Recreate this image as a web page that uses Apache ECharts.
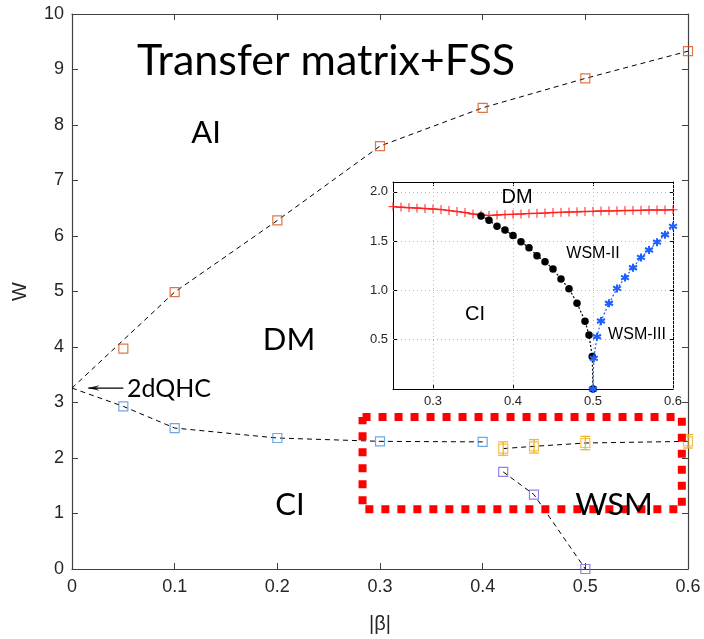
<!DOCTYPE html>
<html><head><meta charset="utf-8">
<script src="https://cdn.jsdelivr.net/npm/echarts@6/dist/echarts.min.js"></script>
<style>html,body{margin:0;padding:0;background:#fff}#c{width:704px;height:639px}</style>
</head><body><div id="c"></div>
<script>
// ---------- main panel data ----------
const mainXTicks = [0, 0.1, 0.2, 0.3, 0.4, 0.5, 0.6];
const mainYTicks = [0, 1, 2, 3, 4, 5, 6, 7, 8, 9, 10];
const aiX    = [0.05, 0.1, 0.2, 0.3, 0.4, 0.5, 0.6];
const aiW    = [3.97, 4.99, 6.28, 7.62, 8.31, 8.84, 9.33];
const aiFitX = [0, 0.1, 0.2, 0.3, 0.4, 0.5, 0.6];
const aiFitW = [3.26, 4.99, 6.28, 7.62, 8.31, 8.84, 9.33];
const ciX    = [0.05, 0.1, 0.2, 0.3, 0.4];
const ciW    = [2.93, 2.54, 2.36, 2.30, 2.29];
const ciFitX = [0, 0.05, 0.1, 0.2, 0.3, 0.4];
const ciFitW = [3.26, 2.93, 2.54, 2.36, 2.30, 2.29];
const wsmX   = [0.42, 0.45, 0.5, 0.6];
const wsmW   = [2.17, 2.21, 2.27, 2.30];
const wsmErr = [0.12, 0.12, 0.12, 0.12];
const wsm2X  = [0.42, 0.45, 0.5];
const wsm2W  = [1.75, 1.34, 0];
const boxCornersX = [0.283, 0.594, 0.594, 0.283, 0.283];
const boxCornersW = [2.737, 2.737, 1.075, 1.075, 2.737];
const arrowFrom = [0.05, 3.26];
const arrowTo   = [0.016, 3.26];

// ---------- inset data ----------
const insetXTicks = [0.3, 0.4, 0.5, 0.6];
const insetYTicks = [0.5, 1.0, 1.5, 2.0];
const dmX = [0.25,0.26,0.27,0.28,0.29,0.30,0.31,0.32,0.33,0.34,0.35,0.36,0.37,0.38,0.39,0.40,0.41,0.42,
             0.43,0.44,0.45,0.46,0.47,0.48,0.49,0.50,0.51,0.52,0.53,0.54,0.55,0.56,0.57,0.58,0.59,0.60];
const dmW = [1.850,1.845,1.840,1.835,1.830,1.825,1.820,1.810,1.800,1.790,1.775,1.765,1.760,1.765,1.770,1.772,1.775,1.780,
             1.782,1.785,1.790,1.792,1.795,1.797,1.800,1.802,1.805,1.807,1.808,1.810,1.812,1.813,1.815,1.816,1.817,1.818];
const ciInX = [0.36,0.37,0.38,0.39,0.40,0.41,0.42,0.43,0.44,0.45,0.46,0.47,0.48,0.49,0.495,0.499,0.50];
const ciInW = [1.756,1.712,1.651,1.614,1.556,1.495,1.434,1.353,1.292,1.217,1.115,1.017,0.871,0.688,0.549,0.33,0.0];
const w3X = [0.50,0.501,0.505,0.51,0.52,0.53,0.54,0.55,0.56,0.57,0.58,0.59,0.60];
const w3W = [0.0,0.31,0.53,0.69,0.87,1.02,1.13,1.23,1.335,1.41,1.49,1.565,1.65];

const zip = (a, b) => a.map((v, i) => [v, b[i]]);

const AX = '#262626';
const tickFont = 'Liberation Sans, Arial, sans-serif';

function mainAxisX(pos, show) {
  return {
    type: 'value', gridIndex: 0, position: pos, min: 0, max: 0.6, interval: 0.1,
    axisLine: { show: true, onZero: false, lineStyle: { color: '#404040', width: 1.2 } },
    axisTick: { show: true, inside: true, length: 6, lineStyle: { color: '#404040' } },
    axisLabel: { show: show, color: AX, fontSize: 18, fontFamily: tickFont, margin: 9,
                 formatter: v => (v === 0 ? '0' : v.toFixed(1)) },
    splitLine: { show: false },
    name: show ? '|β|' : '', nameLocation: 'middle', nameGap: 45,
    nameTextStyle: { color: AX, fontSize: 20, fontFamily: tickFont }
  };
}
function mainAxisY(pos, show) {
  return {
    type: 'value', gridIndex: 0, position: pos, min: 0, max: 10, interval: 1,
    axisLine: { show: true, onZero: false, lineStyle: { color: '#404040', width: 1.2 } },
    axisTick: { show: true, inside: true, length: 6, lineStyle: { color: '#404040' } },
    axisLabel: { show: show, color: AX, fontSize: 18, fontFamily: tickFont, margin: 8 },
    splitLine: { show: false },
    name: show ? 'W' : '', nameLocation: 'middle', nameGap: 42, nameRotate: 90,
    nameTextStyle: { color: AX, fontSize: 20, fontFamily: tickFont }
  };
}
function insetAxisX(pos, show) {
  return {
    type: 'value', gridIndex: 1, position: pos, min: 0.25, max: 0.6,
    axisLine: { show: true, onZero: false, lineStyle: { color: '#000', width: 1 } },
    axisTick: { show: true, inside: true, length: 4, customValues: insetXTicks, lineStyle: { color: '#000' } },
    axisLabel: { show: show, color: AX, fontSize: 13, fontFamily: tickFont, margin: 6,
                 customValues: insetXTicks, formatter: v => v.toFixed(1) },
    splitLine: { show: false }
  };
}
function insetAxisY(pos, show) {
  return {
    type: 'value', gridIndex: 1, position: pos, min: 0, max: 2.1,
    axisLine: { show: true, onZero: false, lineStyle: { color: '#000', width: 1 } },
    axisTick: { show: true, inside: true, length: 4, customValues: insetYTicks, lineStyle: { color: '#000' } },
    axisLabel: { show: show, color: AX, fontSize: 13, fontFamily: tickFont, margin: 5,
                 customValues: insetYTicks, formatter: v => v.toFixed(1) },
    splitLine: { show: false }
  };
}

const sq = (color) => ({ color: 'rgba(0,0,0,0)', borderColor: color, borderWidth: 1.2 });

const option = {
  animation: false,
  backgroundColor: '#fff',
  grid: [
    { left: 72, top: 14, width: 616, height: 558, show: false },
    { left: 393, top: 182, width: 280, height: 207, show: true, backgroundColor: '#fff', borderWidth: 0 }
  ],
  xAxis: [mainAxisX('bottom', true), mainAxisX('top', false), insetAxisX('bottom', true), insetAxisX('top', false)],
  yAxis: [mainAxisY('left', true), mainAxisY('right', false), insetAxisY('left', true), insetAxisY('right', false)],
  series: [
    { type: 'line', xAxisIndex: 0, yAxisIndex: 0, data: zip(aiFitX, aiFitW), symbol: 'none',
      lineStyle: { color: '#000', width: 1, type: [5, 4] } },
    { type: 'line', xAxisIndex: 0, yAxisIndex: 0, data: zip(ciFitX, ciFitW), symbol: 'none',
      lineStyle: { color: '#000', width: 1, type: [5, 4] } },
    { type: 'line', xAxisIndex: 0, yAxisIndex: 0, data: zip(wsmX, wsmW), symbol: 'none',
      lineStyle: { color: '#000', width: 1, type: [5, 4] } },
    { type: 'line', xAxisIndex: 0, yAxisIndex: 0, data: zip(wsm2X, wsm2W), symbol: 'none',
      lineStyle: { color: '#000', width: 1, type: [5, 4] } },
    { type: 'scatter', xAxisIndex: 0, yAxisIndex: 0, data: zip(aiX, aiW), symbol: 'rect', symbolSize: 9, itemStyle: sq('#D95319'), z: 4 },
    { type: 'scatter', xAxisIndex: 0, yAxisIndex: 0, data: zip(ciX, ciW), symbol: 'rect', symbolSize: 9, itemStyle: sq('#4A90E2'), z: 4 },
    { type: 'scatter', xAxisIndex: 0, yAxisIndex: 0, data: zip(wsmX, wsmW), symbol: 'rect', symbolSize: 9, itemStyle: sq('#EDB120'), z: 4 },
    { type: 'scatter', xAxisIndex: 0, yAxisIndex: 0, data: zip(wsm2X, wsm2W), symbol: 'rect', symbolSize: 9, itemStyle: sq('#7B5CE0'), z: 4 },
    { type: 'custom', xAxisIndex: 0, yAxisIndex: 0, z: 4,
      data: wsmX.map((x, i) => [x, wsmW[i], wsmErr[i]]),
      renderItem: function (params, api) {
        const x = api.value(0), y = api.value(1), e = api.value(2);
        const lo = api.coord([x, y - e]), hi = api.coord([x, y + e]);
        const st = { stroke: '#EDB120', lineWidth: 1.2 };
        return { type: 'group', children: [
          { type: 'line', shape: { x1: lo[0], y1: lo[1], x2: hi[0], y2: hi[1] }, style: st },
          { type: 'line', shape: { x1: lo[0] - 5, y1: lo[1], x2: lo[0] + 5, y2: lo[1] }, style: st },
          { type: 'line', shape: { x1: hi[0] - 5, y1: hi[1], x2: hi[0] + 5, y2: hi[1] }, style: st }
        ]};
      } },
    { type: 'line', xAxisIndex: 0, yAxisIndex: 0, data: zip(boxCornersX, boxCornersW), symbol: 'none', z: 6,
      lineStyle: { color: '#FF0000', width: 8, type: [8, 8], cap: 'butt' } },
    // arrow pointing to the 2dQHC point
    { type: 'line', xAxisIndex: 0, yAxisIndex: 0, data: [arrowFrom, arrowTo], symbol: 'none',
      lineStyle: { color: '#000', width: 1.2 } },
    { type: 'scatter', xAxisIndex: 0, yAxisIndex: 0, data: [arrowTo],
      symbol: 'path://M0,0L10,-3.5L7,0L10,3.5Z', symbolKeepAspect: true, symbolSize: [12, 8], symbolOffset: [5, 0],
      itemStyle: { color: '#000' } },

    // ---------- inset ----------
    { type: 'line', xAxisIndex: 2, yAxisIndex: 2, data: [], symbol: 'none', z: 3,
      markLine: { silent: true, symbol: 'none', label: { show: false },
        lineStyle: { color: '#b8b8b8', width: 1, type: [1, 3] },
        data: insetXTicks.map(v => ({ xAxis: v })).concat(insetYTicks.map(v => ({ yAxis: v }))) } },
    { type: 'line', xAxisIndex: 2, yAxisIndex: 2, data: zip(dmX, dmW), z: 5,
      symbol: 'path://M0,-1L0,1M-1,0L1,0', symbolSize: 9, showSymbol: true,
      itemStyle: { color: '#FF2020', borderColor: '#FF2020', borderWidth: 1 },
      lineStyle: { color: '#FF2020', width: 1.5 } },
    { type: 'line', xAxisIndex: 2, yAxisIndex: 2, data: zip(ciInX, ciInW), z: 5,
      symbol: 'circle', symbolSize: 7.5, itemStyle: { color: '#000' },
      lineStyle: { color: '#000', width: 1.2, type: [2, 2] } },
    { type: 'line', xAxisIndex: 2, yAxisIndex: 2, data: zip(w3X, w3W), z: 6,
      symbol: 'path://M0,-1L0,1M-0.87,-0.5L0.87,0.5M-0.87,0.5L0.87,-0.5', symbolSize: 8,
      itemStyle: { color: '#1F5FFF', borderColor: '#1F5FFF', borderWidth: 2 },
      lineStyle: { color: '#1F5FFF', width: 1.2, type: [2, 2] } }
  ],
  graphic: [
    { type: 'text', x: 326, y: 61, style: { text: 'Transfer matrix+FSS', font: '43px Lato', fill: '#000', textAlign: 'center', textVerticalAlign: 'middle' } },
    { type: 'text', x: 206, y: 133, style: { text: 'AI', font: '31px Lato', fill: '#000', textAlign: 'center', textVerticalAlign: 'middle' } },
    { type: 'text', x: 289, y: 340, style: { text: 'DM', font: '31px Lato', fill: '#000', textAlign: 'center', textVerticalAlign: 'middle' } },
    { type: 'text', x: 290, y: 505, style: { text: 'CI', font: '31px Lato', fill: '#000', textAlign: 'center', textVerticalAlign: 'middle' } },
    { type: 'text', x: 614, y: 505, z: 10, style: { text: 'WSM', font: '31px Lato', fill: '#000', textAlign: 'center', textVerticalAlign: 'middle' } },
    { type: 'text', x: 169, y: 389, style: { text: '2dQHC', font: '25px Lato', fill: '#000', textAlign: 'center', textVerticalAlign: 'middle' } },
    { type: 'text', x: 517, y: 197, z: 10, style: { text: 'DM', font: '20px "Liberation Sans"', fill: '#000', textAlign: 'center', textVerticalAlign: 'middle' } },
    { type: 'text', x: 475, y: 314, z: 10, style: { text: 'CI', font: '20px "Liberation Sans"', fill: '#000', textAlign: 'center', textVerticalAlign: 'middle' } },
    { type: 'text', x: 593, y: 254, z: 10, style: { text: 'WSM-II', font: '16px "Liberation Sans"', fill: '#000', textAlign: 'center', textVerticalAlign: 'middle' } },
    { type: 'text', x: 637, y: 335, z: 10, style: { text: 'WSM-III', font: '16px "Liberation Sans"', fill: '#000', textAlign: 'center', textVerticalAlign: 'middle' } }
  ]
};

const chart = echarts.init(document.getElementById('c'), null, { renderer: 'canvas' });
chart.setOption(option);
</script>
</body></html>
